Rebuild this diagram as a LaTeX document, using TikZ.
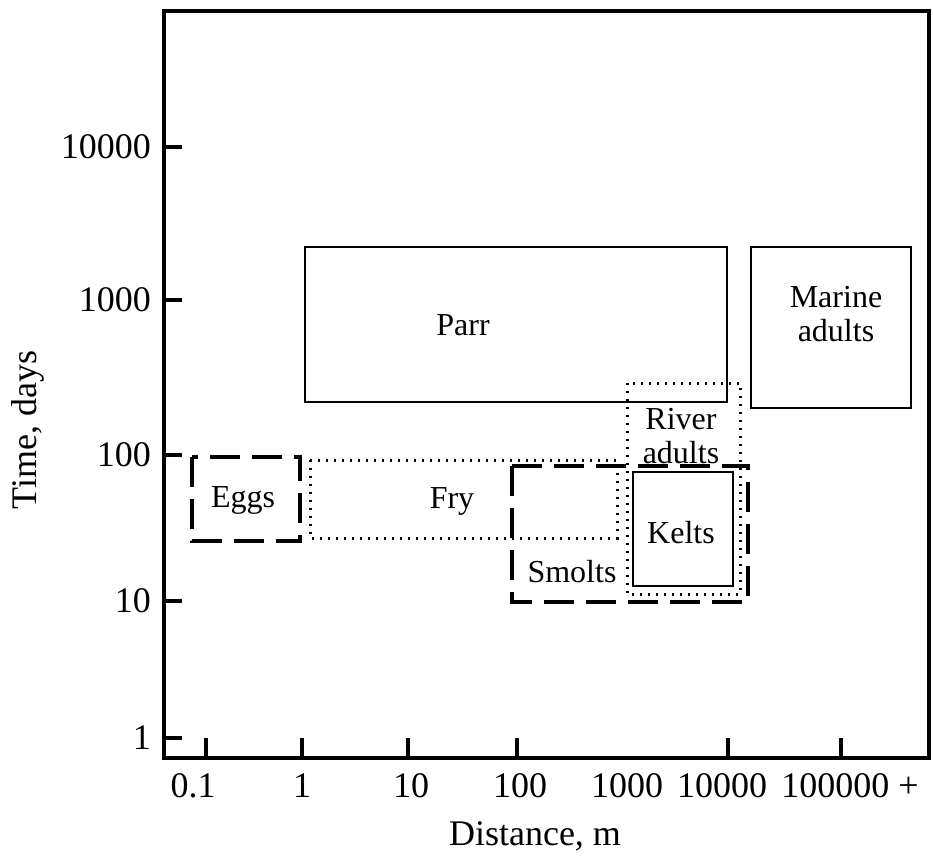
\documentclass[tikz,border=0pt]{standalone}
\usepackage{fontspec}
\setmainfont{Liberation Serif}
\tikzset{
  stagebox/.style={line width=1.2pt},
  stagedash/.style={line width=1.6pt, dash pattern=on 15pt off 6pt},
  stagedot/.style={line width=1.5pt, dash pattern=on 1pt off 3pt},
  stagelbl/.style={anchor=center, align=center, font=\fontsize{16}{17}\selectfont},
  ticklbl/.style={font=\fontsize{18}{19}\selectfont},
  axislbl/.style={font=\fontsize{18}{20}\selectfont}
}
\begin{document}
\begin{tikzpicture}[x=0.5pt,y=-0.5pt]
  \useasboundingbox (0,0) rectangle (933,856);
  % frame and ticks
  \draw[line width=1.6pt] (164,11) rectangle (929,758);
  \foreach \y/\t in {147/10000,300/1000,455/100,601/10,738/1}{
    \draw[line width=1.6pt] (164,\y) -- (182,\y);
    \node[ticklbl,anchor=east] (ylbl\t) at (158,\y) {\t};
  }
  \foreach \x in {206,302,408,517,728,841}
    \draw[line width=1.6pt] (\x,758) -- (\x,738);
  \foreach \x/\t/\n in {193/0.1/a,302/1/b,411/10/c,520/100/d,627/1000/e,722/10000/f,850/100000 +/g}
    \node[ticklbl] (xlbl\n) at (\x,786) {\t};
  \node[axislbl] (xaxis) at (535,836) {Distance, m};
  \node[axislbl,rotate=90] (yaxis) at (28,430) {Time, days};
  % life stages
  \draw[stagebox] (305,247) rectangle (727,402);
  \draw[stagebox] (751,247) rectangle (911,408);
  \draw[stagedash] (192,457) rectangle (300,541);
  \draw[stagedot] (310,460) rectangle (617,538);
  \draw[stagedash] (512,466) rectangle (748,602);
  \draw[stagedot] (627,383) rectangle (740,594);
  \draw[stagebox] (633,472) rectangle (733,586);
  \node[stagelbl] (parr) at (463,325) {Parr};
  \node[stagelbl] (marine) at (836,314) {Marine\\adults};
  \node[stagelbl] (eggs) at (243,500) {Eggs};
  \node[stagelbl] (fry) at (452,501) {Fry};
  \node[stagelbl] (smolts) at (572,572) {Smolts};
  \node[stagelbl] (river) at (681,436) {River\\adults};
  \node[stagelbl] (kelts) at (681,533) {Kelts};
\end{tikzpicture}
\end{document}
